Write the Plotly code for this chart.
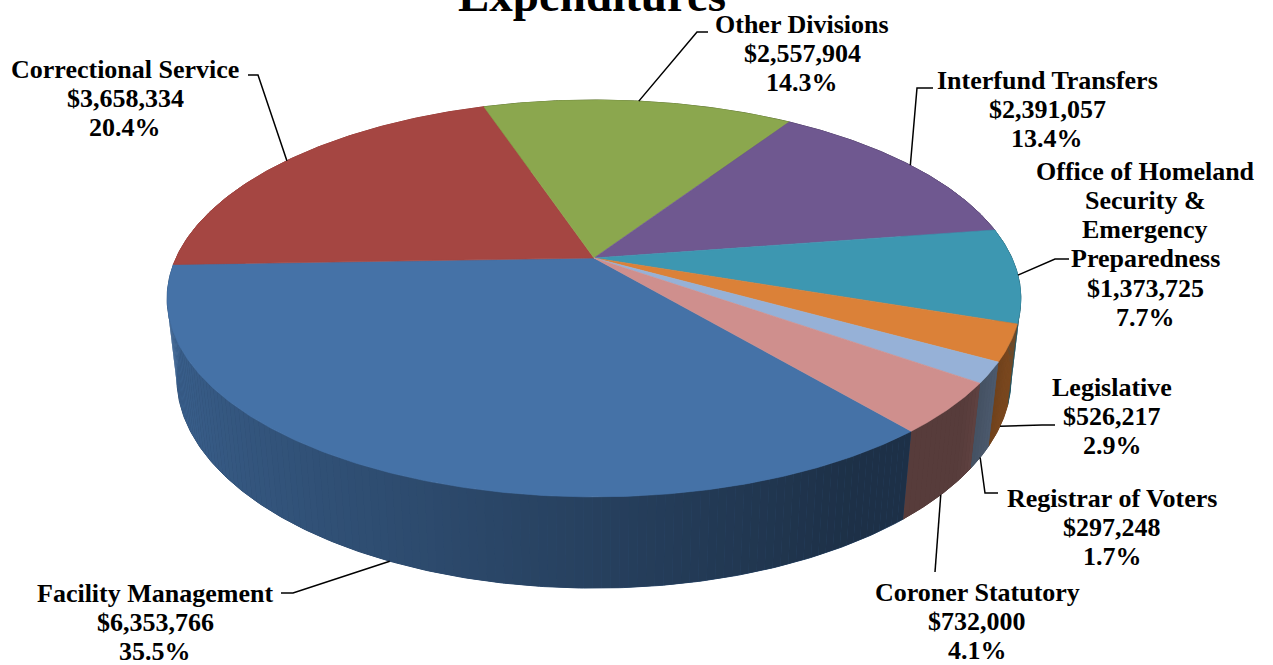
import numpy as np
import plotly.graph_objects as go

# ---- data -------------------------------------------------------------
categories = [
    "Facility Management",
    "Correctional Service",
    "Other Divisions",
    "Interfund Transfers",
    "Office of Homeland Security & Emergency Preparedness",
    "Legislative",
    "Registrar of Voters",
    "Coroner Statutory",
]
amounts = [6353766, 3658334, 2557904, 2391057, 1373725, 526217, 297248, 732000]

# how each category name is broken into lines on the chart
name_lines = [
    ["Facility Management"],
    ["Correctional Service"],
    ["Other Divisions"],
    ["Interfund Transfers"],
    ["Office of Homeland", "Security &", "Emergency", "Preparedness"],
    ["Legislative"],
    ["Registrar of Voters"],
    ["Coroner Statutory"],
]

slice_colors = ["#4572A7", "#A54642", "#8BA74E", "#6F5890",
                "#3D97B1", "#DB8138", "#96B1D7", "#CF8F8D"]

title_text = "Expenditures"

# ---- label layout (pixel space) --------------------------------------
label_x = [155, 125, 802, 1047, 1145, 1112, 1112, 977]
label_y0 = [593, 69, 24, 80, 171, 387, 498, 592]
line_step = 29.3
# leader line: text end point and elbow point
leader_start = [(281, 593), (248, 75), (708, 32), (933, 88),
                (1069, 259), (1055, 425), (998, 493), (935, 572)]
leader_elbow = [(293, 593), (258, 75), (697, 32), (917, 88),
                (1055, 259), (1042, 425), (985, 493), (935, 572)]

W, HGT = 1273, 665

# ---- 3D pie geometry ---------------------------------------------------
CX, CY = 594.0, 258.0          # pie centre on screen
SCALE, DIST = 1825.0, 4.367    # projection scale and camera distance
ALPHA = np.radians(27.07)      # camera elevation
THICK = 0.215                  # pie thickness relative to radius
START = 140.2                  # angle of first slice edge (deg, clockwise from 12 o'clock)


def project(theta_deg, level=0.0):
    t = np.radians(theta_deg)
    X = np.sin(t)
    Z = -np.cos(t)
    d = DIST - level * np.sin(ALPHA) - Z * np.cos(ALPHA)
    px = CX + SCALE * X / d
    py = CY - SCALE * (level * np.cos(ALPHA) - Z * np.sin(ALPHA)) / d
    return px, py


def hex_rgb(h):
    h = h.lstrip("#")
    return tuple(int(h[i:i + 2], 16) for i in (0, 2, 4))


def shade(h, f):
    r, g, b = hex_rgb(h)
    return "rgb(%d,%d,%d)" % (min(255, r * f), min(255, g * f), min(255, b * f))


# side wall brightness versus angle
shade_ang = [60, 95, 115, 130, 150, 200, 260, 300]
shade_fac = [0.60, 0.60, 0.55, 0.42, 0.43, 0.66, 0.88, 0.92]

total = float(sum(amounts))
fractions = [v / total for v in amounts]
edges = START + 360.0 * np.concatenate([[0.0], np.cumsum(fractions)])

fig = go.Figure()


def side_polygon(a0, a1):
    angs = np.linspace(a0, a1, max(2, int((a1 - a0) / 0.5) + 2))
    xt, yt = project(angs)
    xb, yb = project(angs[::-1], -THICK)
    return (np.concatenate([xt, xb, xt[:1]]), np.concatenate([yt, yb, yt[:1]]))


# side walls: a solid base per slice, then gradient strips on top
bases = []
strips = []
for i in range(len(amounts)):
    a0, a1 = edges[i], edges[i + 1]
    am = ((a0 + a1) / 2) % 360
    xs, ys = side_polygon(a0, a1)
    bases.append((-np.cos(np.radians(am)), xs, ys,
                  shade(slice_colors[i], np.interp(am, shade_ang, shade_fac))))
    n = max(1, int(np.ceil((a1 - a0) / 1.0)))
    angs = np.linspace(a0, a1, n + 1)
    for k in range(n):
        t0, t1 = angs[k], angs[k + 1]
        tm = (t0 + t1) / 2
        zm = -np.cos(np.radians(tm))
        if zm < -0.45:
            continue
        xs, ys = side_polygon(t0, t1)
        f = np.interp(tm % 360, shade_ang, shade_fac)
        strips.append((zm, xs, ys, shade(slice_colors[i], f)))

bases.sort(key=lambda s: s[0])
for zm, xs, ys, col in bases:
    fig.add_trace(go.Scatter(x=xs, y=ys, mode="lines", fill="toself",
                             fillcolor=col, line=dict(color=col, width=1),
                             hoverinfo="skip", showlegend=False))
strips.sort(key=lambda s: s[0])
for zm, xs, ys, col in strips:
    fig.add_trace(go.Scatter(x=xs, y=ys, mode="lines", fill="toself",
                             fillcolor=col, line=dict(width=0),
                             hoverinfo="skip", showlegend=False))

# top faces
for i in range(len(amounts)):
    a0, a1 = edges[i], edges[i + 1]
    angs = np.linspace(a0, a1, max(2, int((a1 - a0) / 0.5) + 2))
    px, py = project(angs)
    xs = np.concatenate([[CX], px, [CX]])
    ys = np.concatenate([[CY], py, [CY]])
    fig.add_trace(go.Scatter(x=xs, y=ys, mode="lines", fill="toself",
                             fillcolor=slice_colors[i],
                             line=dict(color=slice_colors[i], width=0.6),
                             name=categories[i], hoverinfo="name",
                             showlegend=False))

# leader lines and labels
annotations = []
for i in range(len(amounts)):
    mid = (edges[i] + edges[i + 1]) / 2
    zmid = -np.cos(np.radians(mid))
    ax, ay = project(mid, -THICK if zmid > 0.3 else 0.0)
    sx, sy = leader_start[i]
    ex, ey = leader_elbow[i]
    fig.add_trace(go.Scatter(x=[sx, ex, ax], y=[sy, ey, ay], mode="lines",
                             line=dict(color="black", width=1.5),
                             hoverinfo="skip", showlegend=False))

    pct = 100.0 * fractions[i]
    lines = name_lines[i] + ["${:,}".format(amounts[i]), "{:.1f}%".format(pct)]
    for j, txt in enumerate(lines):
        annotations.append(dict(
            x=label_x[i], y=label_y0[i] + j * line_step, xref="x", yref="y",
            text=txt, showarrow=False, xanchor="center", yanchor="middle",
            font=dict(family="Liberation Serif", size=26, color="black",
                      weight="bold")))

annotations.append(dict(
    x=592 / W, y=1 + 5 / HGT, xref="paper", yref="paper", text=title_text,
    showarrow=False, xanchor="center", yanchor="middle",
    font=dict(family="Liberation Serif", size=47, color="black", weight="bold")))

fig.update_layout(
    width=W, height=HGT,
    margin=dict(l=0, r=0, t=0, b=0),
    paper_bgcolor="white", plot_bgcolor="white",
    xaxis=dict(range=[0, W], visible=False, fixedrange=True),
    yaxis=dict(range=[HGT, 0], visible=False, fixedrange=True),
    annotations=annotations,
    showlegend=False,
)

fig.write_html("out.html", config={"displayModeBar": False})
